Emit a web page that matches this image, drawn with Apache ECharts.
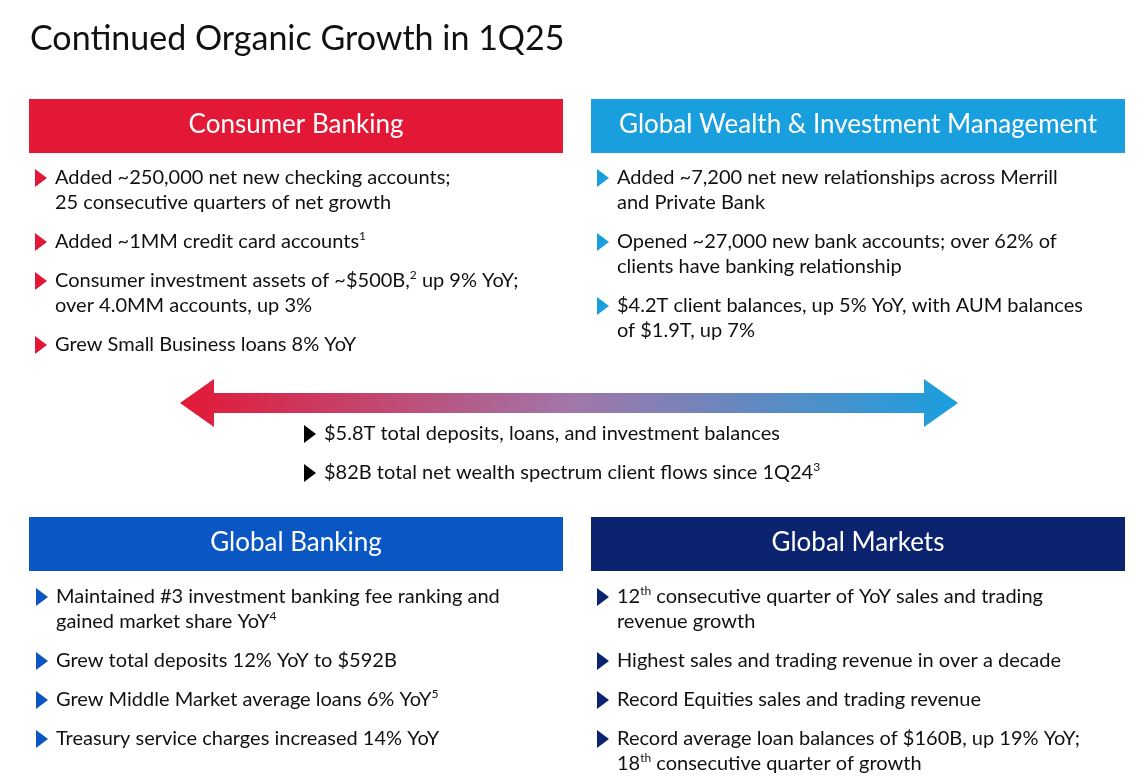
<!DOCTYPE html>
<html>
<head>
<meta charset="utf-8">
<script src="https://cdn.jsdelivr.net/npm/echarts@6/dist/echarts.min.js"></script>
<style>html,body{margin:0;background:#fff}#main{width:1147px;height:780px}</style>
</head>
<body>
<div id="main"></div>
<script>
// slide text; {s|..} marks a superscript
var title = 'Continued Organic Growth in 1Q25';
var panelTitles = ['Consumer Banking', 'Global Wealth & Investment Management', 'Global Banking', 'Global Markets'];
var consumerBullets = [
  ['Added ~250,000 net new checking accounts;', '25 consecutive quarters of net growth'],
  ['Added ~1MM credit card accounts{s|1}'],
  ['Consumer investment assets of ~$500B,{s|2} up 9% YoY;', 'over 4.0MM accounts, up 3%'],
  ['Grew Small Business loans 8% YoY']
];
var wealthBullets = [
  ['Added ~7,200 net new relationships across Merrill', 'and Private Bank'],
  ['Opened ~27,000 new bank accounts; over 62% of', 'clients have banking relationship'],
  ['$4.2T client balances, up 5% YoY, with AUM balances', 'of $1.9T, up 7%']
];
var middleBullets = [
  ['$5.8T total deposits, loans, and investment balances'],
  ['$82B total net wealth spectrum client flows since 1Q24{s|3}']
];
var bankingBullets = [
  ['Maintained #3 investment banking fee ranking and', 'gained market share YoY{s|4}'],
  ['Grew total deposits 12% YoY to $592B'],
  ['Grew Middle Market average loans 6% YoY{s|5}'],
  ['Treasury service charges increased 14% YoY']
];
var marketsBullets = [
  ['12{s|th} consecutive quarter of YoY sales and trading', 'revenue growth'],
  ['Highest sales and trading revenue in over a decade'],
  ['Record Equities sales and trading revenue'],
  ['Record average loan balances of $160B, up 19% YoY;', '18{s|th} consecutive quarter of growth']
];

var FONT = 'Lato';
var chart = echarts.init(document.getElementById('main'));
var g = [];

g.push({ type: 'text', left: 30, top: 22, style: { text: title, font: '34px ' + FONT, fill: '#111' } });

function header(x, y, label, color) {
  g.push({ type: 'rect', shape: { x: x, y: y, width: 534, height: 54 }, style: { fill: color } });
  g.push({ type: 'text', x: x + 267, y: y + 26, style: { text: label, font: '26px ' + FONT, fill: '#fff', align: 'center', verticalAlign: 'middle' } });
}

function bullets(list, x, y, color) {
  list.forEach(function (b) {
    g.push({ type: 'polygon', shape: { points: [[x, y - 9], [x + 12, y], [x, y + 9]] }, style: { fill: color } });
    b.forEach(function (line, i) {
      g.push({ type: 'text', x: x + 20, y: y + i * 25, style: {
        text: line, font: '20px ' + FONT, fill: '#111', verticalAlign: 'middle',
        rich: { s: { fontSize: 12, fontFamily: FONT, fill: '#111', verticalAlign: 'top', padding: [0, 0, 12, 0] } }
      } });
    });
    y += (b.length - 1) * 25 + 39;
  });
}

header(29, 99, panelTitles[0], '#e31837');
header(591, 99, panelTitles[1], '#1a9fde');
header(29, 517, panelTitles[2], '#0a56c2');
header(591, 517, panelTitles[3], '#0c2470');

bullets(consumerBullets, 35, 178, '#e31837');
bullets(wealthBullets, 597, 178, '#1a9fde');
bullets(middleBullets, 304, 434, '#000');
bullets(bankingBullets, 36, 597, '#0a56c2');
bullets(marketsBullets, 597, 597, '#0c2470');

// double arrow
g.push({ type: 'polygon', shape: { points: [
  [180, 403], [214, 379], [214, 393], [924, 393], [924, 379], [958, 403],
  [924, 427], [924, 413], [214, 413], [214, 427]
] }, style: { fill: new echarts.graphic.LinearGradient(0, 0, 1, 0, [
  { offset: 0, color: '#e31837' }, { offset: 0.5, color: '#a276a8' }, { offset: 1, color: '#1a9fde' }
]) } });

chart.setOption({ animation: false, graphic: g });
</script>
</body>
</html>
